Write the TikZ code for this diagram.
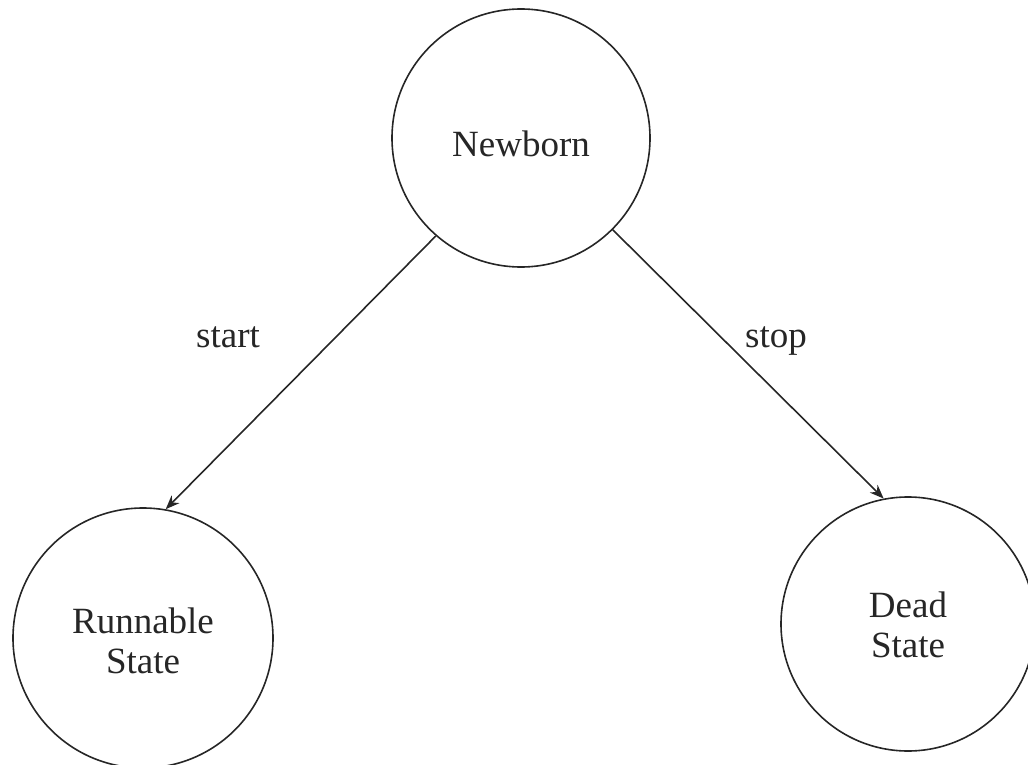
\documentclass[tikz,border=0pt]{standalone}
\usepackage{fontspec}
\setmainfont{Liberation Serif}
\usetikzlibrary{arrows.meta}
\newcommand{\inlines}[2]{\raisebox{#1}[0pt][0pt]{\begin{tabular}[t]{@{}c@{}}#2\end{tabular}}}
\begin{document}
\begin{tikzpicture}[x=1pt,y=-1pt,
  state/.style={draw=black!85, line width=1.6pt, circle, inner sep=0pt,
    font=\fontsize{37}{40}\selectfont, text=black!85},
  trans/.style={draw=black!85, line width=1.6pt, -{Stealth[length=14pt,width=11pt]}},
  lbl/.style={font=\fontsize{37}{40}\selectfont, text=black!85, anchor=base}]
\useasboundingbox (0,0) rectangle (1028,765);
\node[state, minimum size=258pt] (nb) at (521,138) {\inlines{-19pt}{Newborn}};
\node[state, minimum size=260pt] (run) at (143,638) {\inlines{5pt}{Runnable\\State}};
\node[state, minimum size=254pt] (dead) at (908,624) {\inlines{7pt}{Dead\\State}};
\draw[trans] (nb.229) -- (run.80);
\draw[trans] (nb.-45) -- (dead.101);
\node[lbl] (lstart) at (228,347) {start};
\node[lbl] (lstop) at (776,347) {stop};
\end{tikzpicture}
\end{document}
